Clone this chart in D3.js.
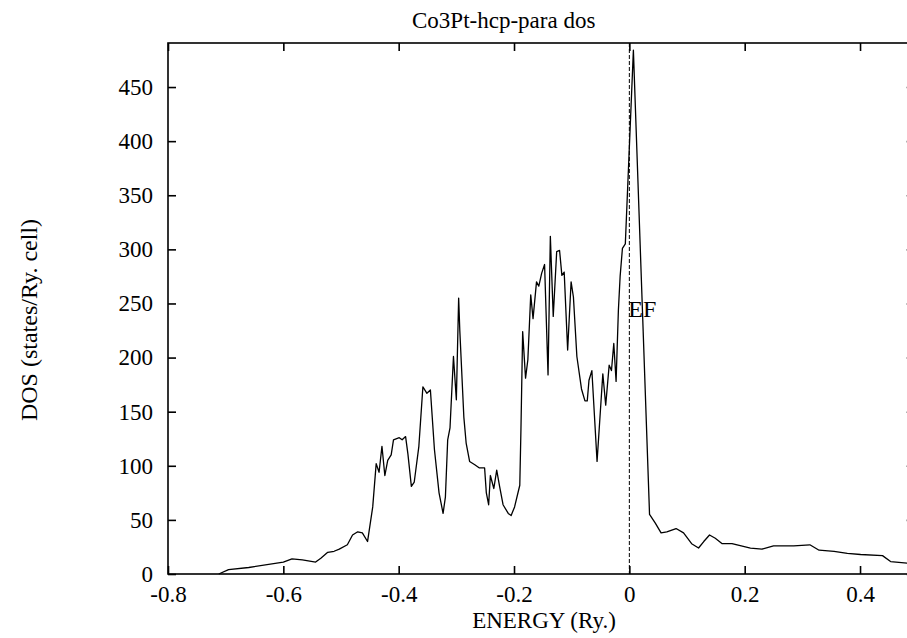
<!DOCTYPE html>
<html>
<head>
<meta charset="utf-8">
<script src="https://cdn.jsdelivr.net/npm/d3@7"></script>
<style>
  body { margin: 0; background: #fff; overflow: hidden; }
  text { font-family: "Liberation Serif", "DejaVu Serif", serif; fill: #000; }
</style>
</head>
<body>
<div id="dos"></div>
<script>
// data
var energy = [-0.712, -0.695, -0.660, -0.600, -0.585, -0.567, -0.544, -0.535, -0.523,
  -0.512, -0.503, -0.489, -0.480, -0.471, -0.463, -0.454, -0.445, -0.439, -0.434,
  -0.429, -0.424, -0.419, -0.413, -0.409, -0.399, -0.394, -0.388, -0.384, -0.378,
  -0.373, -0.365, -0.358, -0.351, -0.345, -0.338, -0.330, -0.323, -0.319, -0.315,
  -0.311, -0.305, -0.300, -0.296, -0.294, -0.287, -0.283, -0.277, -0.268, -0.260,
  -0.251, -0.248, -0.244, -0.241, -0.235, -0.230, -0.225, -0.219, -0.210, -0.205,
  -0.199, -0.190, -0.188, -0.185, -0.180, -0.176, -0.171, -0.167, -0.161, -0.157,
  -0.152, -0.147, -0.141, -0.137, -0.132, -0.126, -0.121, -0.117, -0.113, -0.107,
  -0.101, -0.097, -0.091, -0.083, -0.077, -0.073, -0.070, -0.065, -0.056, -0.046,
  -0.041, -0.035, -0.031, -0.027, -0.023, -0.019, -0.016, -0.012, -0.007, 0.007,
  0.035, 0.045, 0.055, 0.065, 0.081, 0.094, 0.108, 0.120, 0.129, 0.139,
  0.149, 0.161, 0.178, 0.210, 0.230, 0.250, 0.285, 0.313, 0.329, 0.355,
  0.378, 0.401, 0.439, 0.453, 0.482];
var dos = [0, 4, 6, 11, 14, 13, 11, 14.5, 20,
  21, 23, 27, 36, 39, 38, 30, 62, 102, 94,
  118, 91, 105, 110, 124, 126, 124, 127, 111, 81,
  85, 118, 173, 167, 170, 115, 75, 56, 71, 124,
  135, 201, 161, 255, 225, 145, 121, 104, 101, 98,
  98, 75, 64, 91, 79, 96, 81, 64, 56, 54,
  62, 82, 133, 224, 181, 198, 258, 236, 270, 266,
  278, 286, 184, 312, 238, 298, 299, 276, 279, 207,
  270, 256, 201, 171, 160, 160, 179, 188, 104, 185,
  156, 193, 188, 213, 178, 244, 275, 301, 305, 484,
  55, 47, 38, 39, 42, 38, 28, 24, 30, 36,
  33, 28, 28, 24, 23, 26, 26, 27, 22, 21,
  19, 18, 17, 11.5, 10];
var xTicks = [-0.8, -0.6, -0.4, -0.2, 0, 0.2, 0.4];
var yTicks = [0, 50, 100, 150, 200, 250, 300, 350, 400, 450];
var fermi = 0;

// set the dimensions and margins of the graph
var margin = {top: 43, right: 0, bottom: 64, left: 168},
    width = 917.7 - margin.left,
    height = 638 - margin.top - margin.bottom;

var svg = d3.select("#dos")
  .append("svg")
    .attr("width", 907)
    .attr("height", 638)
  .append("g")
    .attr("transform", "translate(" + margin.left + "," + margin.top + ")");

var x = d3.scaleLinear().domain([-0.8, 0.5]).range([0, width]);
var y = d3.scaleLinear().domain([0, 490.7]).range([height, 0]);

// the curve
var pts = energy.map(function(e, i) { return [e, dos[i]]; });
svg.append("path")
    .datum(pts)
    .attr("fill", "none")
    .attr("stroke", "#000")
    .attr("stroke-width", 1.3)
    .attr("stroke-linejoin", "round")
    .attr("d", d3.line().x(function(d) { return x(d[0]); }).y(function(d) { return y(d[1]); }));

// fermi level
svg.append("line")
    .attr("x1", x(fermi)).attr("x2", x(fermi))
    .attr("y1", 0).attr("y2", height)
    .attr("stroke", "#000")
    .attr("stroke-width", 1)
    .attr("stroke-dasharray", "4,2");

svg.append("text")
    .attr("x", x(fermi) - 1)
    .attr("y", 317 - margin.top)
    .attr("font-size", "24px")
    .text("EF");

// axes, ticks point inward
var axisStyle = function(g) {
  g.select(".domain").remove();
  g.selectAll(".tick line").attr("stroke", "#000").attr("stroke-width", 1.6);
  g.selectAll(".tick text").attr("font-size", "23px");
};
svg.append("g")
    .attr("transform", "translate(0," + height + ")")
    .call(d3.axisBottom(x).tickValues(xTicks).tickSize(-8).tickPadding(12)
      .tickFormat(function(d) { return d === 0 ? "0" : d.toFixed(1); }))
    .call(axisStyle);
svg.append("g")
    .call(d3.axisTop(x).tickValues(xTicks).tickSize(-8).tickFormat(""))
    .call(axisStyle);
svg.append("g")
    .call(d3.axisLeft(y).tickValues(yTicks).tickSize(-8).tickPadding(15))
    .call(axisStyle);
svg.append("g")
    .attr("transform", "translate(" + width + ",0)")
    .call(d3.axisRight(y).tickValues(yTicks).tickSize(-11).tickFormat(""))
    .call(axisStyle);

// frame
svg.append("rect")
    .attr("width", width).attr("height", height)
    .attr("fill", "none")
    .attr("stroke", "#000")
    .attr("stroke-width", 1.6);

// titles
svg.append("text")
    .attr("x", 412 - margin.left)
    .attr("y", 28 - margin.top)
    .attr("font-size", "23px")
    .text("Co3Pt-hcp-para dos");

svg.append("text")
    .attr("x", 544 - margin.left)
    .attr("y", 628 - margin.top)
    .attr("text-anchor", "middle")
    .attr("font-size", "23px")
    .text("ENERGY (Ry.)");

svg.append("text")
    .attr("transform", "translate(" + (37 - margin.left) + "," + (320 - margin.top) + ") rotate(-90)")
    .attr("text-anchor", "middle")
    .attr("font-size", "24px")
    .text("DOS (states/Ry. cell)");
</script>
</body>
</html>
